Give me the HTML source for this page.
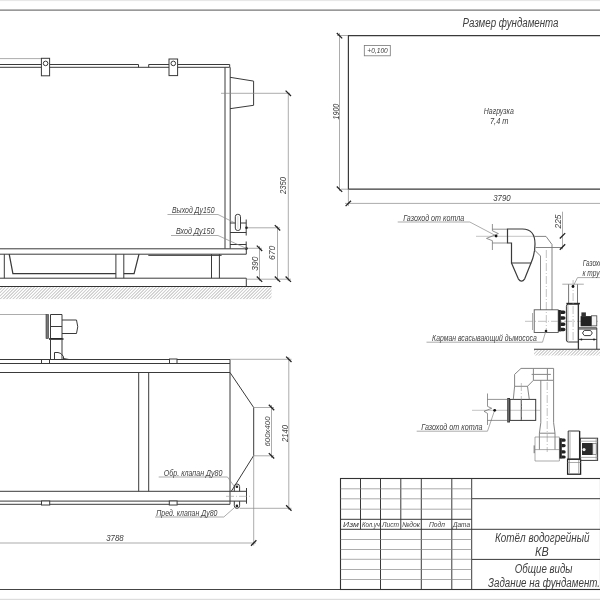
<!DOCTYPE html>
<html><head><meta charset="utf-8">
<style>
html,body{margin:0;padding:0;background:#fff;width:600px;height:600px;overflow:hidden}
svg{display:block;filter:grayscale(1)}
.m{stroke:#3a3a3a;stroke-width:1;fill:none}
.k{stroke:#222;stroke-width:1.3;fill:none}
.t{stroke:#888;stroke-width:0.7;fill:none}
.c{stroke:#999;stroke-width:0.6;fill:none;stroke-dasharray:8 2 1 2}
.tk{stroke:#222;stroke-width:1.3;fill:none}
text{font-family:"Liberation Sans",sans-serif;font-style:italic;fill:#404040}
</style></head><body>
<svg width="600" height="600" viewBox="0 0 600 600">
<defs>
<pattern id="hatch" patternUnits="userSpaceOnUse" width="3.2" height="12" patternTransform="skewX(-45)">
<line x1="1.6" y1="0" x2="1.6" y2="12" stroke="#a0a0a0" stroke-width="0.8"/>
</pattern>
</defs>
<rect x="0" y="0" width="600" height="1.1" fill="#e8e8e8"/>
<rect x="0" y="598.8" width="600" height="1.2" fill="#ddd"/>
<!-- top frame line -->
<line x1="0" y1="10.2" x2="600" y2="10.2" stroke="#777" stroke-width="1.3"/>
<!-- bottom frame line -->
<line x1="0" y1="589.5" x2="600" y2="589.5" stroke="#444" stroke-width="1.2"/>

<!-- ============ VIEW 1 (side elevation) ============ -->
<g id="v1">
<line class="t" x1="0" y1="58.6" x2="41.4" y2="58.6"/>
<!-- top plate -->
<path class="m" d="M0 64.5H138.5V67.3M148.7 67.3V64.5H229.7V67.3H0M225 67.3V248.6M230.2 67.3V248.6"/>
<!-- lugs -->
<rect class="m" x="41.4" y="58.3" width="8.2" height="17.5" style="fill:#fff"/>
<circle class="m" cx="45.6" cy="63.4" r="2.3"/>
<rect class="m" x="169" y="59" width="8.6" height="16.6" style="fill:#fff"/>
<circle class="m" cx="173.3" cy="63.4" r="2.3"/>
<!-- burner -->
<path class="m" d="M230 77.3L253.6 81.1V105.3L230 108.7"/>
<!-- bottom -->
<path class="m" d="M0 248.8H246.3V254.2H0"/>
<line x1="148.3" y1="255.3" x2="221.6" y2="255.3" stroke="#555" stroke-width="1.3"/>
<path class="m" d="M4.3 254.2V278.2M115.9 254.2V278.2M123.8 254.2V278.2M211.5 254.2V278.2M219.4 254.2V278.2"/>
<path class="m" d="M9.2 254.2L12.9 273.6H115.9M123.8 273.6H134.1L139 254.2" style="stroke-width:1.25"/>
<path class="m" d="M0 278.2H246.3V286.5"/>
<line x1="0" y1="286.5" x2="271.5" y2="286.5" stroke="#333" stroke-width="1.2"/>
<rect x="0" y="287.1" width="271.5" height="12" fill="url(#hatch)"/>
<!-- nozzles -->
<path class="m" d="M230 223H246.2M230 232.5H246.2M230 244.5H246.2M246.2 219.5V235.5M246.2 241.5V250"/>
<rect class="m" x="235.3" y="214.3" width="5.2" height="16.2" rx="2.4" style="fill:#fff"/>
<line x1="237.9" y1="216" x2="237.9" y2="229" stroke="#bbb" stroke-width="0.6"/>
<!-- dimension lines -->
<line class="t" x1="221" y1="93.3" x2="290" y2="93.3"/>
<line class="t" x1="288.3" y1="93.3" x2="288.3" y2="281"/>
<line class="t" x1="246.3" y1="227.8" x2="280" y2="227.8"/>
<line class="t" x1="277.5" y1="226" x2="277.5" y2="281"/>
<line class="t" x1="246.3" y1="248.3" x2="262" y2="248.3"/>
<line class="t" x1="259.5" y1="246" x2="259.5" y2="281"/>
<line class="t" x1="246.3" y1="279.2" x2="291" y2="279.2"/>
<circle cx="246.5" cy="227.8" r="1.3" fill="#222"/>
<circle cx="246.5" cy="248.5" r="1.3" fill="#222"/>
<path class="tk" d="M285.6 90.6L291 96M285.6 276.5L291 281.9M274.8 225.1L280.2 230.5M274.8 276.5L280.2 281.9M256.8 245.6L262.2 251M256.8 276.5L262.2 281.9"/>
<text transform="translate(286,194) rotate(-90)" font-size="8.5" textLength="17" lengthAdjust="spacingAndGlyphs">2350</text>
<text transform="translate(275,260) rotate(-90)" font-size="8.5" textLength="14.3" lengthAdjust="spacingAndGlyphs">670</text>
<text transform="translate(258,270.7) rotate(-90)" font-size="8.5" textLength="14" lengthAdjust="spacingAndGlyphs">390</text>
<!-- labels -->
<path class="t" d="M167.5 214.5H218L235 223"/>
<path class="t" d="M171 235.5H218L246.5 248.5"/>
<text x="172" y="213" font-size="8.8" textLength="42.5" lengthAdjust="spacingAndGlyphs">Выход Ду150</text>
<text x="176" y="233.8" font-size="8.8" textLength="38.5" lengthAdjust="spacingAndGlyphs">Вход Ду150</text>
</g>

<!-- ============ VIEW 2 (plan) ============ -->
<g id="v2">
<line class="t" x1="0" y1="314.5" x2="46" y2="314.5"/>
<rect x="46" y="314.5" width="2.5" height="24" fill="#777" stroke="#333" stroke-width="0.6"/>
<path class="m" d="M50.5 314.5H62V338.5H50.5ZM50.5 326.5H62"/>
<path class="m" d="M62 320H76.5Q79 326.75 76.5 333.5H62"/>
<line x1="49" y1="339" x2="63.5" y2="339" stroke="#222" stroke-width="1.6"/>
<path class="m" d="M50.5 339.5V359.5M62 339.5V359.5"/>
<path class="m" d="M54.5 359.5V352.5H58Q61 352.5 63.5 356.5V359.5M63.5 358.5L69 359.5"/>
<path class="m" d="M0 359.5H230M0 363.5H230M0 372.5H230L253.7 407.5V455.5L231.3 491.3M0 491.3H230"/>
<path class="m" d="M230 359.5V504.3"/>
<rect class="m" x="41.5" y="359.5" width="8" height="4" style="fill:#fff"/>
<rect class="m" x="169.5" y="359" width="7.5" height="4.5" style="fill:#fff"/>
<path class="m" d="M138.7 372.5V491.3M148.7 372.5V491.3"/>
<path class="m" d="M0 501.1H230M0 504.3H230"/>
<rect class="m" x="41.5" y="501" width="8.2" height="4" style="fill:#fff"/>
<rect class="m" x="169.3" y="501" width="7.8" height="4" style="fill:#fff"/>
<!-- valves -->
<path class="m" d="M230 491.3H246.5M230 501.1H246.5M246.5 488V503.7"/>
<line class="c" x1="226" y1="496.3" x2="250.5" y2="496.3"/>
<path class="m" d="M234.3 491.3V486.6A2.65 2.65 0 0 1 239.6 486.6V491.3"/>
<circle cx="236.9" cy="486.8" r="1.3" fill="#222"/>
<path class="m" d="M234.3 501.1V505.7A2.65 2.65 0 0 0 239.6 505.7V501.1"/>
<circle cx="236.9" cy="505.9" r="1.3" fill="#222"/>
<!-- dims -->
<line class="t" x1="230" y1="359.3" x2="291.5" y2="359.3"/>
<line class="t" x1="239.6" y1="508.3" x2="291.5" y2="508.3"/>
<line class="t" x1="288.8" y1="357" x2="288.8" y2="510"/>
<line class="t" x1="253.7" y1="407.5" x2="274" y2="407.5"/>
<line class="t" x1="253.7" y1="455.8" x2="274" y2="455.8"/>
<line class="t" x1="271.5" y1="405" x2="271.5" y2="458"/>
<line class="t" x1="253.7" y1="455.8" x2="253.7" y2="545.5"/>
<line class="t" x1="0" y1="543" x2="256" y2="543"/>
<path class="tk" d="M286.1 356.6L291.5 362M286.1 505.3L291.5 510.7M268.8 404.8L274.2 410.2M268.8 453.1L274.2 458.5M251 545.7L256.4 540.3"/>
<text transform="translate(287.5,442) rotate(-90)" font-size="8.5" textLength="17" lengthAdjust="spacingAndGlyphs">2140</text>
<text transform="translate(269.8,446.5) rotate(-90)" font-size="7.5" textLength="30" lengthAdjust="spacingAndGlyphs">600х400</text>
<text x="106.2" y="541" font-size="8.8" textLength="17.5" lengthAdjust="spacingAndGlyphs">3788</text>
<path class="t" d="M158.7 477H227.5L234 486"/>
<path class="t" d="M155 517H223.8L234 508"/>
<text x="163.8" y="476.2" font-size="8.8" textLength="58.7" lengthAdjust="spacingAndGlyphs">Обр. клапан Ду80</text>
<text x="156.3" y="515.8" font-size="8.8" textLength="61.2" lengthAdjust="spacingAndGlyphs">Пред. клапан Ду80</text>
</g>

<!-- ============ FOUNDATION ============ -->
<g id="fnd">
<path class="m" d="M600 35.6H348.4V189.2H600" style="stroke-width:1.2"/>
<line class="t" x1="341" y1="189.2" x2="348" y2="189.2"/>
<line class="t" x1="337" y1="35.5" x2="348" y2="35.5"/>
<line class="t" x1="339.5" y1="33" x2="339.5" y2="191"/>
<line class="t" x1="348.4" y1="189.2" x2="348.4" y2="206"/>
<line class="t" x1="345" y1="203.4" x2="600" y2="203.4"/>
<path class="tk" d="M336.8 33L342.2 38.4M336.8 186.5L342.2 191.9M345.6 206.1L351 200.7"/>
<text transform="translate(338.7,119.5) rotate(-90)" font-size="8.5" textLength="15.8" lengthAdjust="spacingAndGlyphs">1900</text>
<text x="493.2" y="201.3" font-size="8.8" textLength="17.5" lengthAdjust="spacingAndGlyphs">3790</text>
<rect x="364.3" y="45.5" width="26" height="10.3" fill="none" stroke="#777" stroke-width="0.8"/>
<text x="367.3" y="53.4" font-size="7.5" textLength="20.5" lengthAdjust="spacingAndGlyphs">+0,100</text>
<text x="483.8" y="113.8" font-size="8.5" textLength="30" lengthAdjust="spacingAndGlyphs">Нагрузка</text>
<text x="490" y="123.6" font-size="8.5" textLength="18.5" lengthAdjust="spacingAndGlyphs">7,4 т</text>
<text x="462.5" y="26.5" font-size="12.5" textLength="96" lengthAdjust="spacingAndGlyphs">Размер фундамента</text>
</g>

<!-- ============ ASSEMBLY 1 ============ -->
<g id="a1">
<path class="t" d="M397.7 222H469.8L496 235.8"/>
<text x="403.2" y="220.6" font-size="8.4" textLength="61" lengthAdjust="spacingAndGlyphs">Газоход от котла</text>
<line class="t" x1="476" y1="236.3" x2="535" y2="236.3" style="stroke:#aaa"/>
<path class="t" d="M492.4 224V230.8L498.4 233.6L486.5 238.4L492.4 240.7V250" style="stroke:#666"/>
<path class="t" d="M492.4 229.2H507.5M492.4 243H507.5" style="stroke:#666"/>
<circle cx="496.1" cy="236.1" r="1.4" fill="#111"/>
<path class="m" d="M507.5 243V229H522.5Q535 229 535 244Q535 254 531 263H511.5V243Z" style="stroke-width:1.2"/>
<path class="m" d="M511.5 263L518.3 278.8Q521.5 283.5 524.7 278.8L531 263" style="stroke-width:1.2"/>
<path class="t" d="M535 236.4H546L552 244.5V310M535.5 247.5H562.5M534.5 250L540.5 256V310" style="stroke:#777;stroke-width:0.9"/>
<line class="c" x1="546.3" y1="250" x2="546.3" y2="330"/>
<line class="t" x1="562.5" y1="211.7" x2="562.5" y2="249.2"/>
<path class="tk" d="M559.8 238.5L565.2 233.1M559.8 249.7L565.2 244.3"/>
<text transform="translate(561,228.5) rotate(-90)" font-size="8.5" textLength="14" lengthAdjust="spacingAndGlyphs">225</text>
<!-- suction box -->
<rect x="534.2" y="309.8" width="24" height="22.7" fill="none" stroke="#555" stroke-width="0.9"/>
<line class="t" x1="532.5" y1="313" x2="532.5" y2="330"/>
<line class="c" x1="525" y1="321.3" x2="600" y2="321.3"/>
<rect x="558.2" y="310" width="2.6" height="21.5" fill="#222"/>
<path d="M560.5 310.5h3.2a1.8 1.8 0 0 1 0 3.6h-3.2zM560.5 316.2h3.2a1.8 1.8 0 0 1 0 3.6h-3.2zM560.5 322.5h3.2a1.8 1.8 0 0 1 0 3.6h-3.2zM560.5 327.7h3.2a1.8 1.8 0 0 1 0 3.6h-3.2z" fill="#222"/>
<path d="M568.6 303.4V284.2M577.5 303.4V284.2" stroke="#666" stroke-width="0.9" fill="none"/>
<line x1="566.4" y1="303.6" x2="579.9" y2="303.6" stroke="#222" stroke-width="1.6"/>
<path class="m" d="M568.4 304.2H578.4V342H568.4Q566.4 342 566.4 340V306.2Q566.4 304.2 568.4 304.2Z"/>
<line x1="578.4" y1="304" x2="578.4" y2="349.3" stroke="#333" stroke-width="1.3"/>
<line class="t" x1="567.9" y1="305" x2="567.9" y2="341"/>
<line class="t" x1="562.3" y1="284.2" x2="583.8" y2="284.2"/>
<line class="c" x1="573.1" y1="280" x2="573.1" y2="345"/>
<rect x="580.6" y="316.1" width="10.9" height="10.2" fill="#222"/>
<rect x="581.4" y="312.4" width="4.5" height="4" fill="#333"/>
<rect x="591.5" y="315.8" width="5.3" height="10.1" fill="#f4f4f4" stroke="#444" stroke-width="0.8"/>
<path class="m" d="M578.4 327.8H596.8V349.3M578.4 329H596.8M578.4 339.4H596.8"/>
<path class="m" d="M582.5 333L584.3 330.4H590.5L592.3 333L590.5 335.6H584.3Z"/>
<circle cx="581.4" cy="339.4" r="1" fill="#222"/><circle cx="594" cy="339.4" r="1" fill="#222"/>
<line x1="534" y1="349.3" x2="600" y2="349.3" stroke="#333" stroke-width="1.1"/>
<rect x="534" y="350" width="66" height="5.5" fill="url(#hatch)"/>
<path class="t" d="M577.5 277.6H600M577.5 277.6L573 286.5"/>
<circle cx="573" cy="286.5" r="1.4" fill="#111"/>
<text x="582.7" y="265.9" font-size="8.5" textLength="23.5" lengthAdjust="spacingAndGlyphs">Газоход</text>
<text x="582.4" y="276" font-size="8.5" textLength="24.5" lengthAdjust="spacingAndGlyphs">к трубе</text>
<path class="t" d="M426.5 342.2H542.5L546 330.5"/>
<circle cx="546" cy="331" r="1.3" fill="#222"/>
<text x="432.1" y="341" font-size="8.4" textLength="104.6" lengthAdjust="spacingAndGlyphs">Карман всасывающий дымососа</text>
</g>

<!-- ============ ASSEMBLY 2 ============ -->
<g id="a2">
<path class="t" d="M416.7 431.2H487.5L494.7 410"/>
<text x="421.3" y="429.7" font-size="8.4" textLength="61.2" lengthAdjust="spacingAndGlyphs">Газоход от котла</text>
<line class="t" x1="472" y1="410.3" x2="540" y2="410.3" style="stroke:#aaa"/>
<path class="t" d="M487.5 393.5V406.4L491.7 408.3L484 411.3L487.5 413.4V425M487.5 399.4H507.2M487.5 420.4H507.2" style="stroke:#666"/>
<circle cx="494.7" cy="410.3" r="1.4" fill="#111"/>
<rect x="507.2" y="398" width="2.8" height="24.5" fill="#3a3a3a"/><line x1="508.6" y1="399" x2="508.6" y2="421.5" stroke="#999" stroke-width="0.6"/>
<rect class="m" x="510" y="399.4" width="25.7" height="21"/>
<line class="m" x1="521.3" y1="399.3" x2="521.3" y2="420.7"/>
<path class="t" d="M513.3 399.4L514.6 386.3H527.5L529.3 399.4M514.6 386.3V374.4L521 368.4H553.6V380.3M527.5 386.3L533.4 380.3H553.6" style="stroke:#777;stroke-width:0.9"/>
<path class="t" d="M533.4 368.4V380.3M547.4 368.4V380.3M531.6 374.4H550.9" style="stroke:#888;stroke-width:1"/>
<line class="c" x1="521.3" y1="383" x2="521.3" y2="420"/>
<path class="t" d="M540.8 380.3V422.7L539.4 433.2H555L553.6 422.7V380.3M539.4 433.2V449.6M555 433.2V449.6" style="stroke:#777;stroke-width:0.9"/>
<line class="c" x1="547.2" y1="382" x2="547.2" y2="452"/>
<path class="t" d="M535 437H559.4V461H535ZM535 449.6H559.4"/>
<rect x="533.6" y="445.4" width="1.3" height="7.8" fill="#888"/>
<rect x="559.4" y="438.2" width="2.4" height="20.4" fill="#222"/>
<path d="M561.5 438.6h2.6a1.6 1.6 0 0 1 0 3.2h-2.6zM561.5 444h2.6a1.6 1.6 0 0 1 0 3.2h-2.6zM561.5 450.3h2.6a1.6 1.6 0 0 1 0 3.2h-2.6zM561.5 455.4h2.6a1.6 1.6 0 0 1 0 3.2h-2.6z" fill="#222"/>
<path class="m" d="M568.2 431H579.6V459.2H568.2Z"/>
<line x1="579.6" y1="431" x2="579.6" y2="459.2" stroke="#222" stroke-width="1.3"/>
<line class="t" x1="570" y1="432" x2="570" y2="458.5"/>
<rect x="567.6" y="459.2" width="13" height="15" fill="none" stroke="#222" stroke-width="1.3"/>
<path class="t" d="M569.5 460V473.5M578.7 460V473.5M567.6 462.5H580.6"/>
<rect class="m" x="580.4" y="438.2" width="17.2" height="22.2"/>
<path class="t" d="M580.4 441.2H597.6M580.4 457.4H597.6M596.2 438.2V460.4"/>
<rect x="582" y="443" width="10.8" height="12" fill="#2a2a2a"/>
<rect x="592.8" y="443.5" width="3.4" height="11" fill="#f0f0f0" stroke="#555" stroke-width="0.6"/>
<circle cx="584" cy="449.6" r="1.6" fill="#eee"/>
</g>

<!-- ============ TITLE BLOCK ============ -->
<g id="tb">
<rect x="340.5" y="478.5" width="260" height="111" fill="none" stroke="#333" stroke-width="1.1"/>
<path class="m" d="M360.5 478.5V529.3M400.8 478.5V529.3"/>
<path class="m" d="M380.5 478.5V589.5M421.3 478.5V589.5M451.8 478.5V589.5M471.7 478.5V589.5"/>
<path class="t" d="M340.5 488.8H471.7M340.5 498.8H471.7M340.5 509.2H471.7M340.5 539.5H471.7M340.5 549.5H471.7M340.5 559.3H471.7M340.5 569.5H471.7M340.5 579.5H471.7"/>
<path class="m" d="M340.5 519.3H471.7M340.5 529.3H600M471.7 498.7H600M471.7 559.4H600"/>
<text x="343" y="527.3" font-size="7" textLength="16" lengthAdjust="spacingAndGlyphs">Изм</text>
<text x="362" y="527.3" font-size="7" textLength="18" lengthAdjust="spacingAndGlyphs">Кол.уч</text>
<text x="382" y="527.3" font-size="7" textLength="17" lengthAdjust="spacingAndGlyphs">Лист</text>
<text x="402" y="527.3" font-size="7" textLength="18" lengthAdjust="spacingAndGlyphs">№док</text>
<text x="429" y="527.3" font-size="7" textLength="16" lengthAdjust="spacingAndGlyphs">Подп</text>
<text x="453" y="527.3" font-size="7" textLength="17" lengthAdjust="spacingAndGlyphs">Дата</text>
<text x="495" y="542.3" font-size="12" textLength="94.5" lengthAdjust="spacingAndGlyphs">Котёл водогрейный</text>
<text x="535.1" y="556.3" font-size="12" textLength="13.6" lengthAdjust="spacingAndGlyphs">КВ</text>
<text x="514.8" y="572.7" font-size="12" textLength="57.7" lengthAdjust="spacingAndGlyphs">Общие виды</text>
<text x="488" y="586.7" font-size="12" textLength="112" lengthAdjust="spacingAndGlyphs">Задание на фундамент.</text>
</g>
</svg>
</body></html>
